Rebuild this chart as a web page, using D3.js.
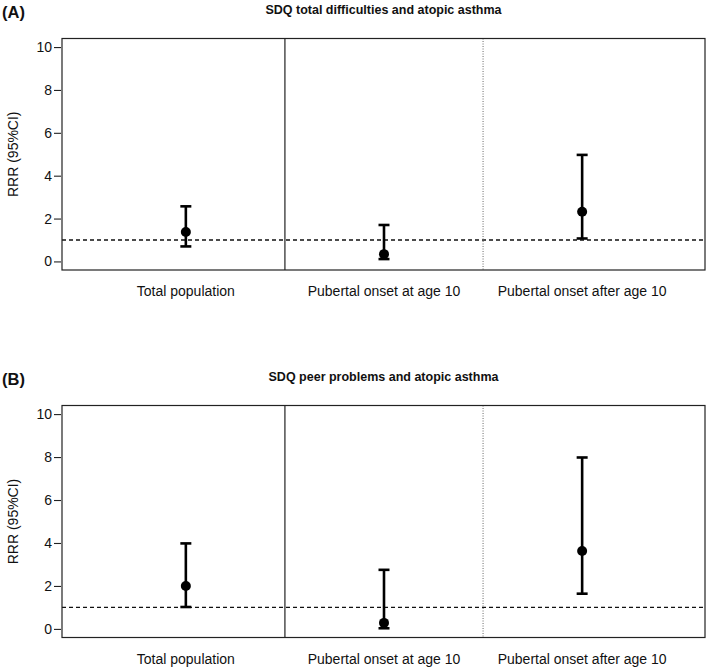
<!DOCTYPE html>
<html lang="en">
<head>
  <meta charset="UTF-8">
  <title>SDQ and atopic asthma</title>
  <script src="https://d3js.org/d3.v7.min.js"></script>
  <style>
    body { margin: 0; background: #fff; }
    svg { display: block; font-family: "Liberation Sans", Arial, sans-serif; }
  </style>
</head>
<body>
<svg></svg>
<script>
  // Gruppen und Werte (RRR mit 95%-KI)
  const groups = ["Total population", "Pubertal onset at age 10", "Pubertal onset after age 10"];
  const yTicks = [0, 2, 4, 6, 8, 10];

  const rrrA  = [1.37, 0.34, 2.32];
  const lowA  = [0.70, 0.11, 1.07];
  const highA = [2.57, 1.70, 4.97];

  const rrrB  = [2.00, 0.28, 3.63];
  const lowB  = [1.02, 0.03, 1.64];
  const highB = [3.98, 2.75, 7.98];

  const panels = [
    { tag: "(A)", title: "SDQ total difficulties and atopic asthma", rrr: rrrA, low: lowA, high: highA, top: 38.5, bottom: 270 },
    { tag: "(B)", title: "SDQ peer problems and atopic asthma", rrr: rrrB, low: lowB, high: highB, top: 405.5, bottom: 637.5 }
  ];

  const width = 709, height = 670;
  const left = 62, right = 705;
  const capHalf = 5.5;

  const svg = d3.select("svg")
    .attr("width", width)
    .attr("height", height)
    .attr("viewBox", `0 0 ${width} ${height}`);

  // x: Positionen 1..3 wie in R, Bereich etwas erweitert
  const x = d3.scaleLinear().domain([0.375, 3.62]).range([left, right]);

  panels.forEach(p => {
    const y = d3.scaleLinear().domain([-0.4, 10.4]).range([p.bottom, p.top]);
    const g = svg.append("g");

    // Buchstabe und Titel
    g.append("text")
      .attr("x", 2).attr("y", p.top - 20.5)
      .attr("font-size", "16.5px").attr("font-weight", "bold").attr("fill", "#111")
      .text(p.tag);
    g.append("text")
      .attr("x", (left + right) / 2).attr("y", p.top - 24.5)
      .attr("text-anchor", "middle")
      .attr("font-size", "12.5px").attr("font-weight", "bold").attr("fill", "#111")
      .text(p.title);

    // y-Achse
    const yAxis = d3.axisLeft(y).tickValues(yTicks).tickSize(7).tickPadding(2);
    const ax = g.append("g")
      .attr("transform", `translate(${left - 1},0)`)
      .call(yAxis);
    ax.select(".domain").remove();
    ax.selectAll(".tick line").attr("stroke", "#222").attr("stroke-width", 1.1);
    ax.selectAll(".tick text")
      .attr("font-size", "14px").attr("fill", "#111")
      .attr("font-family", "'Liberation Sans', Arial, sans-serif");

    g.append("text")
      .attr("transform", `translate(18,${(p.top + p.bottom) / 2}) rotate(-90)`)
      .attr("text-anchor", "middle")
      .attr("font-size", "14px").attr("fill", "#111")
      .text("RRR (95%CI)");

    // Referenzlinie bei 1
    g.append("line")
      .attr("x1", left).attr("x2", right)
      .attr("y1", y(1)).attr("y2", y(1))
      .attr("stroke", "#111").attr("stroke-width", 1.3)
      .attr("stroke-dasharray", "4,3");

    // Trennlinien
    g.append("line")
      .attr("x1", x(1.5)).attr("x2", x(1.5))
      .attr("y1", p.top).attr("y2", p.bottom)
      .attr("stroke", "#222").attr("stroke-width", 1.2);
    g.append("line")
      .attr("x1", x(2.5)).attr("x2", x(2.5))
      .attr("y1", p.top).attr("y2", p.bottom)
      .attr("stroke", "#777").attr("stroke-width", 1.1)
      .attr("stroke-dasharray", "1,1.5");

    // Rahmen
    g.append("rect")
      .attr("x", left).attr("y", p.top)
      .attr("width", right - left).attr("height", p.bottom - p.top)
      .attr("fill", "none").attr("stroke", "#222").attr("stroke-width", 1.2);

    // Fehlerbalken und Punkte
    const idx = d3.range(groups.length);
    g.selectAll(".bar").data(idx).join("line")
      .attr("x1", i => x(i + 1)).attr("x2", i => x(i + 1))
      .attr("y1", i => y(p.low[i])).attr("y2", i => y(p.high[i]))
      .attr("stroke", "#000").attr("stroke-width", 2.6);
    [p.low, p.high].forEach(arr => {
      g.selectAll(null).data(idx).join("line")
        .attr("x1", i => x(i + 1) - capHalf).attr("x2", i => x(i + 1) + capHalf)
        .attr("y1", i => y(arr[i])).attr("y2", i => y(arr[i]))
        .attr("stroke", "#000").attr("stroke-width", 2.6);
    });
    g.selectAll("circle").data(idx).join("circle")
      .attr("cx", i => x(i + 1)).attr("cy", i => y(p.rrr[i]))
      .attr("r", 5).attr("fill", "#000");

    // Gruppenbeschriftung
    g.selectAll(".lab").data(groups).join("text")
      .attr("x", (d, i) => x(i + 1)).attr("y", p.bottom + 26)
      .attr("text-anchor", "middle")
      .attr("font-size", "14px").attr("fill", "#111")
      .text(d => d);
  });
</script>
</body>
</html>
